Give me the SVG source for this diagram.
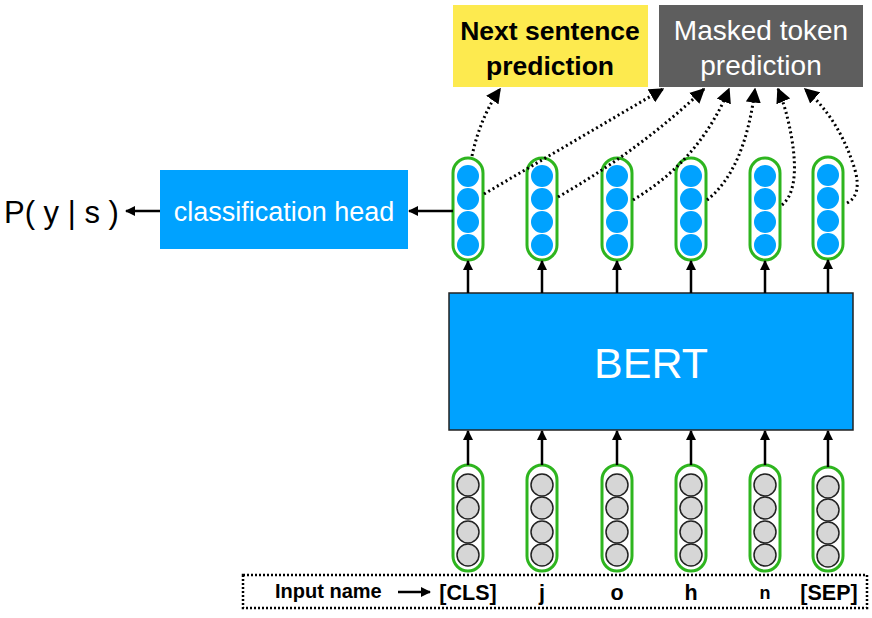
<svg xmlns="http://www.w3.org/2000/svg" width="872" height="618" viewBox="0 0 872 618">
<defs>
<marker id="ah" viewBox="0 0 10 10" refX="9" refY="5" markerWidth="4" markerHeight="4" orient="auto-start-reverse" markerUnits="strokeWidth"><path d="M0,0 L10,5 L0,10 z" fill="#000"/></marker>
<marker id="ad" viewBox="0 0 10 10" refX="9" refY="5" markerWidth="5" markerHeight="5" orient="auto" markerUnits="strokeWidth"><path d="M0,0 L10,5 L0,10 z" fill="#000"/></marker>
</defs>
<style>
.pill{fill:#fff;stroke:#2eb51f;stroke-width:3}
.b{fill:#00a2ff}
.g{fill:#d6d6d6;stroke:#222;stroke-width:1.5}
.ar{stroke:#000;stroke-width:2.5;fill:none;marker-end:url(#ah)}
.dt{stroke:#000;stroke-width:3;fill:none;stroke-dasharray:2 3;marker-end:url(#ad)}
.t{font-family:"Liberation Sans",Arial,sans-serif}
</style>
<rect width="872" height="618" fill="#fff"/>
<g id="nsp"><rect x="453" y="5" width="195" height="82" fill="#fdea4f"/>
<text class="t" x="550" y="40" font-size="26.5" font-weight="bold" text-anchor="middle">Next sentence</text>
<text class="t" x="550" y="75" font-size="26.5" font-weight="bold" text-anchor="middle">prediction</text></g>
<g id="mtp"><rect x="659" y="5" width="204" height="82" fill="#5e5e5e"/>
<text class="t" x="761" y="40" font-size="28" fill="#fff" text-anchor="middle">Masked token</text>
<text class="t" x="761" y="75" font-size="28" fill="#fff" text-anchor="middle">prediction</text></g>
<g id="head"><rect x="160" y="170" width="248" height="79" fill="#00a2ff"/>
<text class="t" x="284" y="221" font-size="27" fill="#fff" text-anchor="middle">classification head</text></g>
<g id="pys"><text class="t" x="4" y="223" font-size="31">P( y | s )</text></g>
<g id="bert"><rect x="449" y="293" width="404" height="137" fill="#00a2ff" stroke="#222" stroke-width="1.5"/>
<text class="t" x="651" y="378" font-size="43" fill="#fff" text-anchor="middle">BERT</text></g>
<g id="out">
<g id="o1"><rect class="pill" x="453" y="158" width="30" height="102" rx="15"/><circle class="b" cx="468" cy="176" r="11"/><circle class="b" cx="468" cy="199" r="11"/><circle class="b" cx="468" cy="222" r="11"/><circle class="b" cx="468" cy="245" r="11"/></g>
<g id="o2"><rect class="pill" x="527" y="158" width="30" height="102" rx="15"/><circle class="b" cx="542" cy="176" r="11"/><circle class="b" cx="542" cy="199" r="11"/><circle class="b" cx="542" cy="222" r="11"/><circle class="b" cx="542" cy="245" r="11"/></g>
<g id="o3"><rect class="pill" x="602" y="158" width="30" height="102" rx="15"/><circle class="b" cx="617" cy="176" r="11"/><circle class="b" cx="617" cy="199" r="11"/><circle class="b" cx="617" cy="222" r="11"/><circle class="b" cx="617" cy="245" r="11"/></g>
<g id="o4"><rect class="pill" x="676" y="158" width="30" height="102" rx="15"/><circle class="b" cx="691" cy="176" r="11"/><circle class="b" cx="691" cy="199" r="11"/><circle class="b" cx="691" cy="222" r="11"/><circle class="b" cx="691" cy="245" r="11"/></g>
<g id="o5"><rect class="pill" x="750" y="158" width="30" height="102" rx="15"/><circle class="b" cx="765" cy="176" r="11"/><circle class="b" cx="765" cy="199" r="11"/><circle class="b" cx="765" cy="222" r="11"/><circle class="b" cx="765" cy="245" r="11"/></g>
<g id="o6"><rect class="pill" x="813" y="157" width="30" height="102" rx="15"/><circle class="b" cx="828" cy="175" r="11"/><circle class="b" cx="828" cy="198" r="11"/><circle class="b" cx="828" cy="221" r="11"/><circle class="b" cx="828" cy="244" r="11"/></g>
</g>
<g id="in">
<g id="i1"><rect class="pill" x="453" y="465" width="30" height="106" rx="15"/><circle class="g" cx="468" cy="485" r="11"/><circle class="g" cx="468" cy="508" r="11"/><circle class="g" cx="468" cy="532" r="11"/><circle class="g" cx="468" cy="555" r="11"/></g>
<g id="i2"><rect class="pill" x="527" y="465" width="30" height="106" rx="15"/><circle class="g" cx="542" cy="485" r="11"/><circle class="g" cx="542" cy="508" r="11"/><circle class="g" cx="542" cy="532" r="11"/><circle class="g" cx="542" cy="555" r="11"/></g>
<g id="i3"><rect class="pill" x="602" y="465" width="30" height="106" rx="15"/><circle class="g" cx="617" cy="485" r="11"/><circle class="g" cx="617" cy="508" r="11"/><circle class="g" cx="617" cy="532" r="11"/><circle class="g" cx="617" cy="555" r="11"/></g>
<g id="i4"><rect class="pill" x="676" y="465" width="30" height="106" rx="15"/><circle class="g" cx="691" cy="485" r="11"/><circle class="g" cx="691" cy="508" r="11"/><circle class="g" cx="691" cy="532" r="11"/><circle class="g" cx="691" cy="555" r="11"/></g>
<g id="i5"><rect class="pill" x="750" y="465" width="30" height="106" rx="15"/><circle class="g" cx="765" cy="485" r="11"/><circle class="g" cx="765" cy="508" r="11"/><circle class="g" cx="765" cy="532" r="11"/><circle class="g" cx="765" cy="555" r="11"/></g>
<g id="i6"><rect class="pill" x="813" y="467" width="30" height="104" rx="15"/><circle class="g" cx="828" cy="487" r="11"/><circle class="g" cx="828" cy="510" r="11"/><circle class="g" cx="828" cy="533" r="11"/><circle class="g" cx="828" cy="556" r="11"/></g>
</g>
<g id="inputbox"><rect x="243" y="575" width="624" height="33" fill="none" stroke="#000" stroke-width="2.5" stroke-dasharray="2 2"/>
<text class="t" x="275" y="598" font-size="20" font-weight="bold">Input name</text>
<text class="t" x="468" y="600" font-size="21.5" font-weight="bold" text-anchor="middle">[CLS]</text>
<text class="t" x="542" y="600" font-size="21.5" font-weight="bold" text-anchor="middle">j</text>
<text class="t" x="617" y="600" font-size="21.5" font-weight="bold" text-anchor="middle">o</text>
<text class="t" x="691" y="600" font-size="21.5" font-weight="bold" text-anchor="middle">h</text>
<text class="t" x="765" y="599" font-size="18" font-weight="bold" text-anchor="middle">n</text>
<text class="t" x="829" y="600" font-size="21.5" font-weight="bold" text-anchor="middle">[SEP]</text></g>
<g id="connectors">
<line class="ar" x1="398" y1="592" x2="430" y2="592"/>
<line class="ar" x1="468" y1="465" x2="468" y2="431"/>
<line class="ar" x1="542" y1="465" x2="542" y2="431"/>
<line class="ar" x1="617" y1="465" x2="617" y2="431"/>
<line class="ar" x1="691" y1="465" x2="691" y2="431"/>
<line class="ar" x1="765" y1="465" x2="765" y2="431"/>
<line class="ar" x1="828" y1="467" x2="828" y2="431"/>
<line class="ar" x1="468" y1="293" x2="468" y2="261"/>
<line class="ar" x1="542" y1="293" x2="542" y2="261"/>
<line class="ar" x1="617" y1="293" x2="617" y2="261"/>
<line class="ar" x1="691" y1="293" x2="691" y2="261"/>
<line class="ar" x1="765" y1="293" x2="765" y2="261"/>
<line class="ar" x1="828" y1="293" x2="828" y2="260"/>
<line class="ar" x1="453" y1="211" x2="409" y2="211"/>
<line class="ar" x1="160" y1="211" x2="126" y2="211"/>
<path class="dt" d="M472,156 Q480,118 500,89"/>
<path class="dt" d="M484,194 L663,89"/>
<path class="dt" d="M558,197 Q640,150 704,89"/>
<path class="dt" d="M633,200 Q700,160 729,89"/>
<path class="dt" d="M707,200 Q745,170 755,89"/>
<path class="dt" d="M782,205 Q800,190 792,140 Q787,110 778,89"/>
<path class="dt" d="M847,203 Q862,195 855,170 Q840,120 805,89"/>
</g>
</svg>
